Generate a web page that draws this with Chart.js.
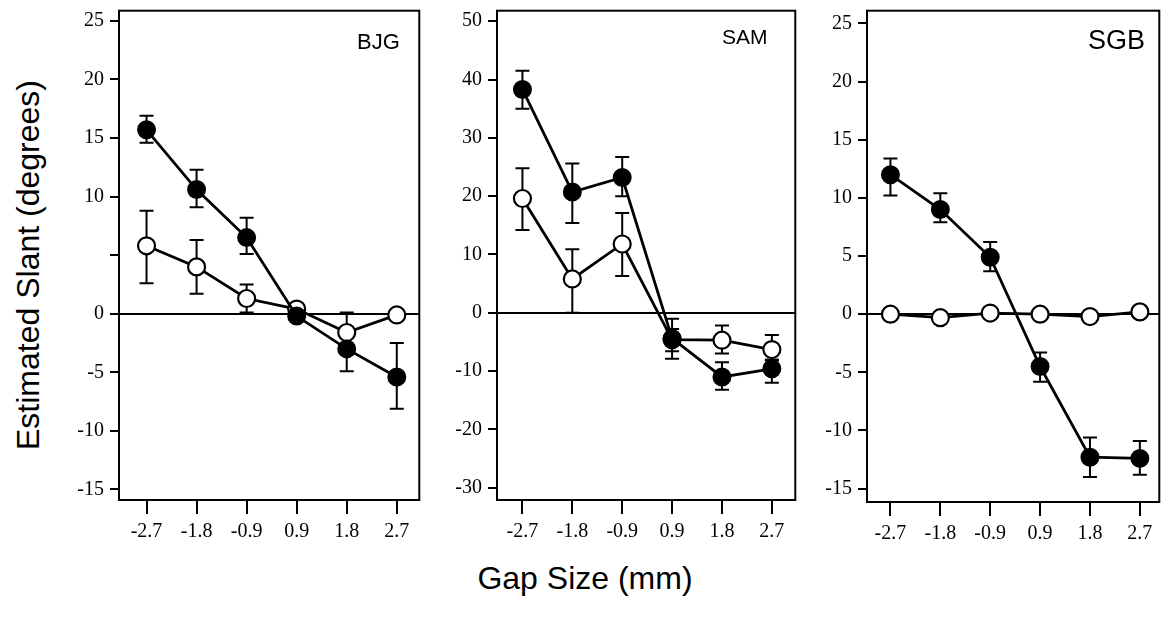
<!DOCTYPE html>
<html>
<head>
<meta charset="utf-8">
<script src="https://cdn.jsdelivr.net/npm/chart.js@4.4.1/dist/chart.umd.min.js"></script>
<style>
  body { margin: 0; background: #fff; width: 1169px; height: 627px; position: relative; overflow: hidden;
         font-family: 'Liberation Sans', Arial, sans-serif; color: #000; }
  .panel { position: absolute; top: 0; }
  .subj { position: absolute; line-height: 1; white-space: nowrap; }
  #ytitle { position: absolute; left: 28px; top: 265px; transform: translate(-50%, -50%) rotate(-90deg);
            font-size: 32px; white-space: nowrap; }
  #xtitle { position: absolute; left: 585px; top: 578px; transform: translate(-50%, -50%);
            font-size: 32px; white-space: nowrap; }
</style>
</head>
<body>
<div class="panel" id="p1"><canvas id="c1"></canvas></div>
<div class="panel" id="p2"><canvas id="c2"></canvas></div>
<div class="panel" id="p3"><canvas id="c3"></canvas></div>
<div class="subj" style="left:357px; top:31px; font-size:22px;">BJG</div>
<div class="subj" style="left:722px; top:26px; font-size:21px;">SAM</div>
<div class="subj" style="left:1088px; top:27px; font-size:27px;">SGB</div>
<div id="ytitle">Estimated Slant (degrees)</div>
<div id="xtitle">Gap Size (mm)</div>
<script>
const gapLabels = ['-2.7', '-1.8', '-0.9', '0.9', '1.8', '2.7'];

// BJG
const bjgTicks = [-15, -10, -5, 0, 5, 10, 15, 20, 25];
const bjgTickLabels = ['-15', '-10', '-5', '0', '', '10', '15', '20', '25'];
const bjgFilled = [15.7, 10.6, 6.5, -0.2, -3.0, -5.4];
const bjgFilledLo = [14.6, 9.1, 5.1, null, -4.9, -8.1];
const bjgFilledHi = [16.9, 12.3, 8.2, null, -1.3, -2.5];
const bjgOpen = [5.8, 4.0, 1.3, 0.4, -1.6, -0.1];
const bjgOpenLo = [2.6, 1.7, 0.1, null, -2.8, null];
const bjgOpenHi = [8.8, 6.3, 2.5, null, 0.1, null];

// SAM
const samTicks = [-30, -20, -10, 0, 10, 20, 30, 40, 50];
const samTickLabels = ['-30', '-20', '-10', '0', '10', '20', '30', '40', '50'];
const samFilled = [38.3, 20.7, 23.2, -4.4, -11.0, -9.6];
const samFilledLo = [35.0, 15.4, 20.0, -7.9, -13.2, -12.0];
const samFilledHi = [41.5, 25.6, 26.7, -1.0, -8.5, -8.0];
const samOpen = [19.6, 5.8, 11.8, -4.6, -4.7, -6.3];
const samOpenLo = [14.2, 0.0, 6.3, -6.6, -7.0, -8.2];
const samOpenHi = [24.8, 10.9, 17.1, -2.8, -2.2, -3.8];

// SGB
const sgbTicks = [-15, -10, -5, 0, 5, 10, 15, 20, 25];
const sgbTickLabels = ['-15', '-10', '-5', '0', '5', '10', '15', '20', '25'];
const sgbFilled = [12.0, 9.0, 4.9, -4.5, -12.3, -12.4];
const sgbFilledLo = [10.2, 7.9, 3.7, -5.8, -14.0, -13.8];
const sgbFilledHi = [13.4, 10.4, 6.2, -3.3, -10.6, -10.9];
const sgbOpen = [0.0, -0.3, 0.1, 0.0, -0.2, 0.2];

// --------------------------------------------------------------------------

const toPoints = arr => arr.map((v, i) => ({ x: i, y: v }));

// error bars under the markers
const errorBars = {
    id: 'errorBars',
    beforeDatasetsDraw(chart) {
        const { ctx, scales: { x, y } } = chart;
        ctx.save();
        ctx.strokeStyle = '#000';
        ctx.lineWidth = 2;
        chart.data.datasets.forEach(ds => {
            if (!ds.errLo) return;
            ds.errLo.forEach((lo, i) => {
                const hi = ds.errHi[i];
                if (lo === null || hi === null) return;
                const px = x.getPixelForValue(i);
                const yl = y.getPixelForValue(lo);
                const yh = y.getPixelForValue(hi);
                ctx.beginPath();
                ctx.moveTo(px, yl); ctx.lineTo(px, yh);
                ctx.moveTo(px - 7, yl); ctx.lineTo(px + 7, yl);
                ctx.moveTo(px - 7, yh); ctx.lineTo(px + 7, yh);
                ctx.stroke();
            });
        });
        ctx.restore();
    }
};

// box round the plot
const frame = {
    id: 'frame',
    beforeDatasetsDraw(chart) {
        const { ctx, chartArea: a } = chart;
        ctx.save();
        ctx.strokeStyle = '#000';
        ctx.lineWidth = 2;
        ctx.strokeRect(a.left, a.top, a.right - a.left, a.bottom - a.top);
        ctx.restore();
    }
};

const tickFont = { family: "'Liberation Serif', 'Times New Roman', serif", size: 20 };

const makePanel = (p) => {
    const box = document.getElementById(p.box);
    const yw = 60, xh = 45;
    box.style.left = (p.left - yw) + 'px';
    box.style.width = (p.right - p.left + yw + 4) + 'px';
    box.style.height = (p.bottom + xh) + 'px';

    new Chart(document.getElementById(p.canvas), {
        type: 'line',
        data: {
            datasets: [
                {
                    data: toPoints(p.filled),
                    errLo: p.filledLo, errHi: p.filledHi,
                    borderColor: '#000', borderWidth: 2.8,
                    pointBackgroundColor: '#000', pointBorderColor: '#000',
                    pointRadius: 8.5, pointBorderWidth: 2, tension: 0
                },
                {
                    data: toPoints(p.open),
                    errLo: p.openLo, errHi: p.openHi,
                    borderColor: '#000', borderWidth: 2.8,
                    pointBackgroundColor: '#fff', pointBorderColor: '#000',
                    pointRadius: 8.5, pointBorderWidth: 2.2, tension: 0
                }
            ]
        },
        options: {
            responsive: true,
            maintainAspectRatio: false,
            animation: false,
            layout: { padding: { top: p.top, right: 4, left: 0, bottom: 0 } },
            plugins: { legend: { display: false }, tooltip: { enabled: false } },
            scales: {
                x: {
                    type: 'linear',
                    min: p.xMin, max: p.xMax,
                    afterBuildTicks: s => { s.ticks = gapLabels.map((_, i) => ({ value: i })); },
                    afterFit: s => { s.height = xh; s.paddingLeft = 0; s.paddingRight = 0; },
                    grid: { color: 'transparent', tickColor: '#000', lineWidth: 2, tickLength: 14 },
                    border: { display: true, color: '#000', width: 2 },
                    ticks: {
                        color: '#000', font: tickFont, padding: 6, maxRotation: 0,
                        callback: v => gapLabels[v]
                    }
                },
                y: {
                    min: p.yMin, max: p.yMax,
                    afterBuildTicks: s => { s.ticks = p.ticks.map(v => ({ value: v })); },
                    afterFit: s => { s.width = yw; s.paddingTop = 0; s.paddingBottom = 0; },
                    grid: {
                        color: c => (c.tick && c.tick.value === 0) ? '#000' : 'transparent',
                        tickColor: '#000', lineWidth: 2, tickLength: 9
                    },
                    border: { display: true, color: '#000', width: 2 },
                    ticks: {
                        color: '#000', font: tickFont, padding: 6,
                        callback: v => p.tickLabels[p.ticks.indexOf(v)]
                    }
                }
            }
        },
        plugins: [frame, errorBars]
    });
};

makePanel({
    box: 'p1', canvas: 'c1', left: 119, right: 426, top: 9, bottom: 500,
    xMin: -0.55, xMax: 5.45, yMin: -15.9, yMax: 25.87,
    ticks: bjgTicks, tickLabels: bjgTickLabels,
    filled: bjgFilled, filledLo: bjgFilledLo, filledHi: bjgFilledHi,
    open: bjgOpen, openLo: bjgOpenLo, openHi: bjgOpenHi
});

makePanel({
    box: 'p2', canvas: 'c2', left: 497, right: 802, top: 9, bottom: 500,
    xMin: -0.51, xMax: 5.47, yMin: -32.1, yMax: 51.8,
    ticks: samTicks, tickLabels: samTickLabels,
    filled: samFilled, filledLo: samFilledLo, filledHi: samFilledHi,
    open: samOpen, openLo: samOpenLo, openHi: samOpenHi
});

makePanel({
    box: 'p3', canvas: 'c3', left: 867, right: 1166, top: 10, bottom: 502,
    xMin: -0.47, xMax: 5.39, yMin: -16.15, yMax: 26.1,
    ticks: sgbTicks, tickLabels: sgbTickLabels,
    filled: sgbFilled, filledLo: sgbFilledLo, filledHi: sgbFilledHi,
    open: sgbOpen, openLo: null, openHi: null
});
</script>
</body>
</html>
